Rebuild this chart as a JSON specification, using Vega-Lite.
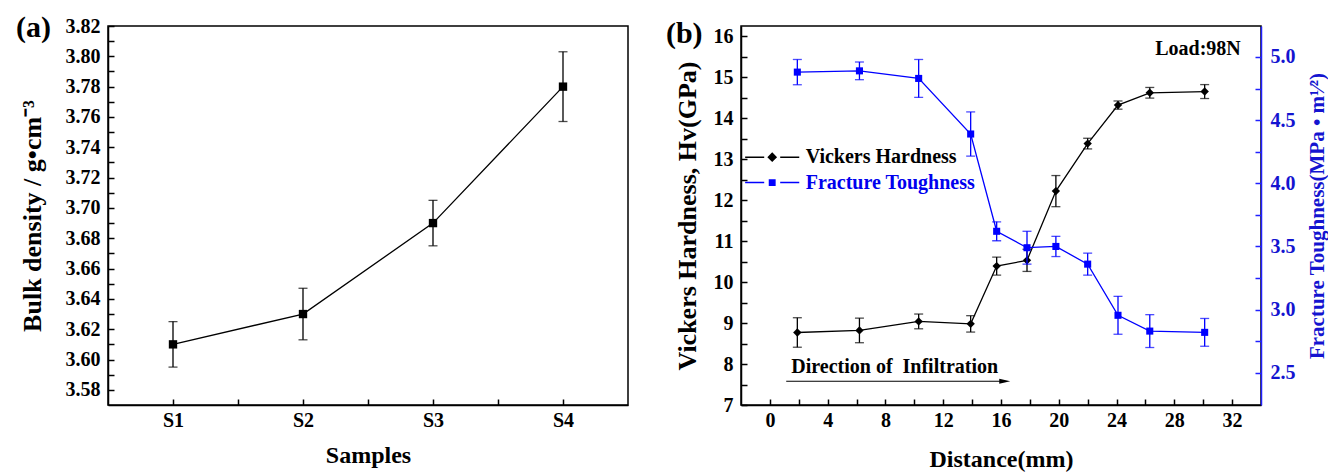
{
  "$schema": "https://vega.github.io/schema/vega-lite/v6.json",
  "padding": {"left": 15, "top": 12, "right": 0, "bottom": 0},
  "spacing": 36,
  "resolve": {"scale": {"color": "independent"}},
  "config": {
    "font": "Liberation Serif",
    "view": {"stroke": "black", "strokeWidth": 1.5},
    "axis": {
      "grid": false,
      "labelFont": "Liberation Serif",
      "labelFontWeight": "bold",
      "labelFontSize": 20,
      "labelColor": "black",
      "titleFont": "Liberation Serif",
      "titleFontWeight": "bold",
      "titleColor": "black",
      "domainColor": "black",
      "domainWidth": 1.5,
      "tickColor": "black",
      "tickWidth": 1.5,
      "tickSize": -6
    }
  },
  "hconcat": [
    {
      "width": 520,
      "height": 379,
      "data": {"values": [
        {"sample": "S1", "n": 1, "density": 3.61, "err": 0.015},
        {"sample": "S2", "n": 2, "density": 3.63, "err": 0.017},
        {"sample": "S3", "n": 3, "density": 3.69, "err": 0.015},
        {"sample": "S4", "n": 4, "density": 3.78, "err": 0.023}
      ]},
      "encoding": {
        "x": {"field": "n", "type": "quantitative",
          "scale": {"domain": [0.5, 4.5], "nice": false, "zero": false},
          "axis": {"title": "Samples", "titleFontSize": 24, "titlePadding": 13,
            "values": [1, 1.5, 2, 2.5, 3, 3.5, 4],
            "labelExpr": "datum.value % 1 == 0 ? 'S' + datum.value : ''",
            "labelPadding": 11, "tickSize": -6}},
        "y": {"field": "density", "type": "quantitative",
          "scale": {"domain": [3.57, 3.82], "nice": false, "zero": false},
          "axis": {"title": "Bulk density / g•cm⁻³", "titleFontSize": 26, "titlePadding": 20,
            "values": [3.58, 3.59, 3.6, 3.61, 3.62, 3.63, 3.64, 3.65, 3.66, 3.67, 3.68, 3.69, 3.7, 3.71, 3.72, 3.73, 3.74, 3.75, 3.76, 3.77, 3.78, 3.79, 3.8, 3.81, 3.82],
            "labelExpr": "round(datum.value * 100) % 2 == 0 ? format(datum.value, '.2f') : ''",
            "labelPadding": 14, "tickSize": -6}}
      },
      "layer": [
        {"mark": {"type": "line", "color": "black", "strokeWidth": 1.3}},
        {
          "mark": {"type": "errorbar", "color": "black", "thickness": 1.3, "ticks": {"size": 9, "thickness": 1.3, "color": "black"}},
          "encoding": {"yError": {"field": "err"}}
        },
        {"mark": {"type": "point", "shape": "square", "filled": true, "size": 70, "color": "black", "opacity": 1}},
        {
          "transform": [{"filter": "datum.n == 1"}],
          "mark": {"type": "text", "font": "Liberation Serif", "fontWeight": "bold", "fontSize": 30, "align": "left", "baseline": "middle", "color": "black", "text": "(a)"},
          "encoding": {"x": {"datum": -0.208}, "y": {"datum": 3.8187}}
        }
      ]
    },
    {
      "width": 520,
      "height": 379,
      "data": {"values": [
        {"distance": 1.9, "hv": 8.77, "hvErr": 0.36, "kic": 4.88, "kicErr": 0.1},
        {"distance": 6.2, "hv": 8.82, "hvErr": 0.3, "kic": 4.89, "kicErr": 0.07},
        {"distance": 10.3, "hv": 9.04, "hvErr": 0.18, "kic": 4.83, "kicErr": 0.15},
        {"distance": 13.9, "hv": 8.98, "hvErr": 0.2, "kic": 4.39, "kicErr": 0.175},
        {"distance": 15.7, "hv": 10.39, "hvErr": 0.22, "kic": 3.62, "kicErr": 0.075},
        {"distance": 17.8, "hv": 10.53, "hvErr": 0.27, "kic": 3.49, "kicErr": 0.13},
        {"distance": 19.8, "hv": 12.22, "hvErr": 0.38, "kic": 3.5, "kicErr": 0.08},
        {"distance": 22.0, "hv": 13.38, "hvErr": 0.13, "kic": 3.36, "kicErr": 0.087},
        {"distance": 24.1, "hv": 14.32, "hvErr": 0.1, "kic": 2.955, "kicErr": 0.15},
        {"distance": 26.3, "hv": 14.62, "hvErr": 0.13, "kic": 2.83, "kicErr": 0.13},
        {"distance": 30.1, "hv": 14.65, "hvErr": 0.17, "kic": 2.82, "kicErr": 0.11}
      ]},
      "encoding": {
        "x": {"field": "distance", "type": "quantitative",
          "scale": {"domain": [-2, 34], "nice": false, "zero": false},
          "axis": {"title": "Distance(mm)", "titleFontSize": 24, "titlePadding": 17,
            "values": [0, 2, 4, 6, 8, 10, 12, 14, 16, 18, 20, 22, 24, 26, 28, 30, 32],
            "labelExpr": "datum.value % 4 == 0 ? format(datum.value, 'd') : ''",
            "labelPadding": 11, "tickSize": -6}}
      },
      "resolve": {"scale": {"y": "independent"}},
      "layer": [
        {
          "encoding": {
            "y": {"field": "hv", "type": "quantitative",
              "scale": {"domain": [7, 16.25], "nice": false, "zero": false},
              "axis": {"orient": "left", "title": "Vickers Hardness, Hv(GPa)", "titleFontSize": 26, "titlePadding": 13,
                "values": [7, 7.5, 8, 8.5, 9, 9.5, 10, 10.5, 11, 11.5, 12, 12.5, 13, 13.5, 14, 14.5, 15, 15.5, 16],
                "labelExpr": "datum.value % 1 == 0 ? format(datum.value, 'd') : ''",
                "labelPadding": 14, "tickSize": -6}},
            "color": {"datum": "Vickers Hardness", "type": "nominal",
              "scale": {"domain": ["Vickers Hardness", "Fracture Toughness"], "range": ["black", "#0000ff"]},
              "legend": {"title": null, "orient": "none", "legendX": 17.7, "legendY": 117.7, "padding": 0,
                "symbolSize": 605, "labelOffset": 20, "labelFontSize": 20, "labelFont": "Liberation Serif",
                "labelFontWeight": "bold", "labelLimit": 400, "rowPadding": 1.4, "symbolStrokeWidth": 1.5,
                "encode": {
                  "symbols": {"update": {
                    "shape": {"signal": "datum.value === 'Vickers Hardness' ? 'M-2.2,0H-0.65M0.65,0H2.2M0,-0.31L0.31,0L0,0.31L-0.31,0Z' : 'M-2.2,0H-0.65M0.65,0H2.2M-0.22,-0.22H0.22V0.22H-0.22Z'"},
                    "stroke": {"signal": "datum.value === 'Vickers Hardness' ? 'black' : '#0000ff'"},
                    "fill": {"signal": "datum.value === 'Vickers Hardness' ? 'black' : '#0000ff'"},
                    "strokeWidth": {"value": 1.5},
                    "opacity": {"value": 1}
                  }},
                  "labels": {"update": {
                    "fill": {"signal": "datum.value === 'Vickers Hardness' ? 'black' : '#0000ee'"}
                  }}
                }}}
          },
          "layer": [
            {"mark": {"type": "line", "strokeWidth": 1.3}},
            {
              "mark": {"type": "errorbar", "thickness": 1.3, "ticks": {"size": 9, "thickness": 1.3}},
              "encoding": {"yError": {"field": "hvErr"}}
            },
            {"mark": {"type": "point", "shape": "diamond", "filled": true, "size": 70, "opacity": 1}},
            {
              "transform": [{"filter": "datum.distance == 1.9"}],
              "mark": {"type": "text", "font": "Liberation Serif", "fontWeight": "bold", "fontSize": 30, "align": "left", "baseline": "middle", "text": "(b)"},
              "encoding": {"x": {"datum": -7.2}, "y": {"datum": 16.05}, "color": {"value": "black"}}
            },
            {
              "transform": [{"filter": "datum.distance == 1.9"}],
              "mark": {"type": "text", "font": "Liberation Serif", "fontWeight": "bold", "fontSize": 20, "align": "right", "baseline": "middle", "text": "Load:98N"},
              "encoding": {"x": {"datum": 32.6}, "y": {"datum": 15.7}, "color": {"value": "black"}}
            },
            {
              "transform": [{"filter": "datum.distance == 1.9"}],
              "mark": {"type": "text", "font": "Liberation Serif", "fontWeight": "bold", "fontSize": 20, "align": "left", "baseline": "middle", "text": "Direction of\u00a0 Infiltration"},
              "encoding": {"x": {"datum": 1.48}, "y": {"datum": 7.93}, "color": {"value": "black"}}
            },
            {
              "transform": [{"filter": "datum.distance == 1.9"}],
              "mark": {"type": "rule", "strokeWidth": 1.2},
              "encoding": {"x": {"datum": 1.13}, "x2": {"datum": 16.3}, "y": {"datum": 7.58}, "color": {"value": "black"}}
            },
            {
              "transform": [{"filter": "datum.distance == 1.9"}],
              "mark": {"type": "point", "shape": "M-1,-0.45L1,0L-1,0.45Z", "filled": true, "size": 121, "opacity": 1},
              "encoding": {"x": {"datum": 16.26}, "y": {"datum": 7.58}, "color": {"value": "black"}}
            }
          ]
        },
        {
          "encoding": {
            "y": {"field": "kic", "type": "quantitative",
              "scale": {"domain": [2.245, 5.245], "nice": false, "zero": false},
              "axis": {"orient": "right", "title": "Fracture Toughness(MPa • m¹⁄²)", "titleFontSize": 21,
                "titleAngle": 270, "titleBaseline": "top", "titlePadding": 11,
                "titleColor": "#1414d0", "labelColor": "#1414d0", "domainColor": "#2020ff", "tickColor": "#2020ff",
                "values": [2.5, 2.75, 3, 3.25, 3.5, 3.75, 4, 4.25, 4.5, 4.75, 5],
                "labelExpr": "round(datum.value * 4) % 2 == 0 ? format(datum.value, '.1f') : ''",
                "labelPadding": 15, "tickSize": -6}},
            "color": {"datum": "Fracture Toughness", "type": "nominal"}
          },
          "layer": [
            {"mark": {"type": "line", "strokeWidth": 1.3}},
            {
              "mark": {"type": "errorbar", "thickness": 1.3, "ticks": {"size": 9, "thickness": 1.3}},
              "encoding": {"yError": {"field": "kicErr"}}
            },
            {"mark": {"type": "point", "shape": "square", "filled": true, "size": 50, "opacity": 1}}
          ]
        }
      ]
    }
  ]
}
